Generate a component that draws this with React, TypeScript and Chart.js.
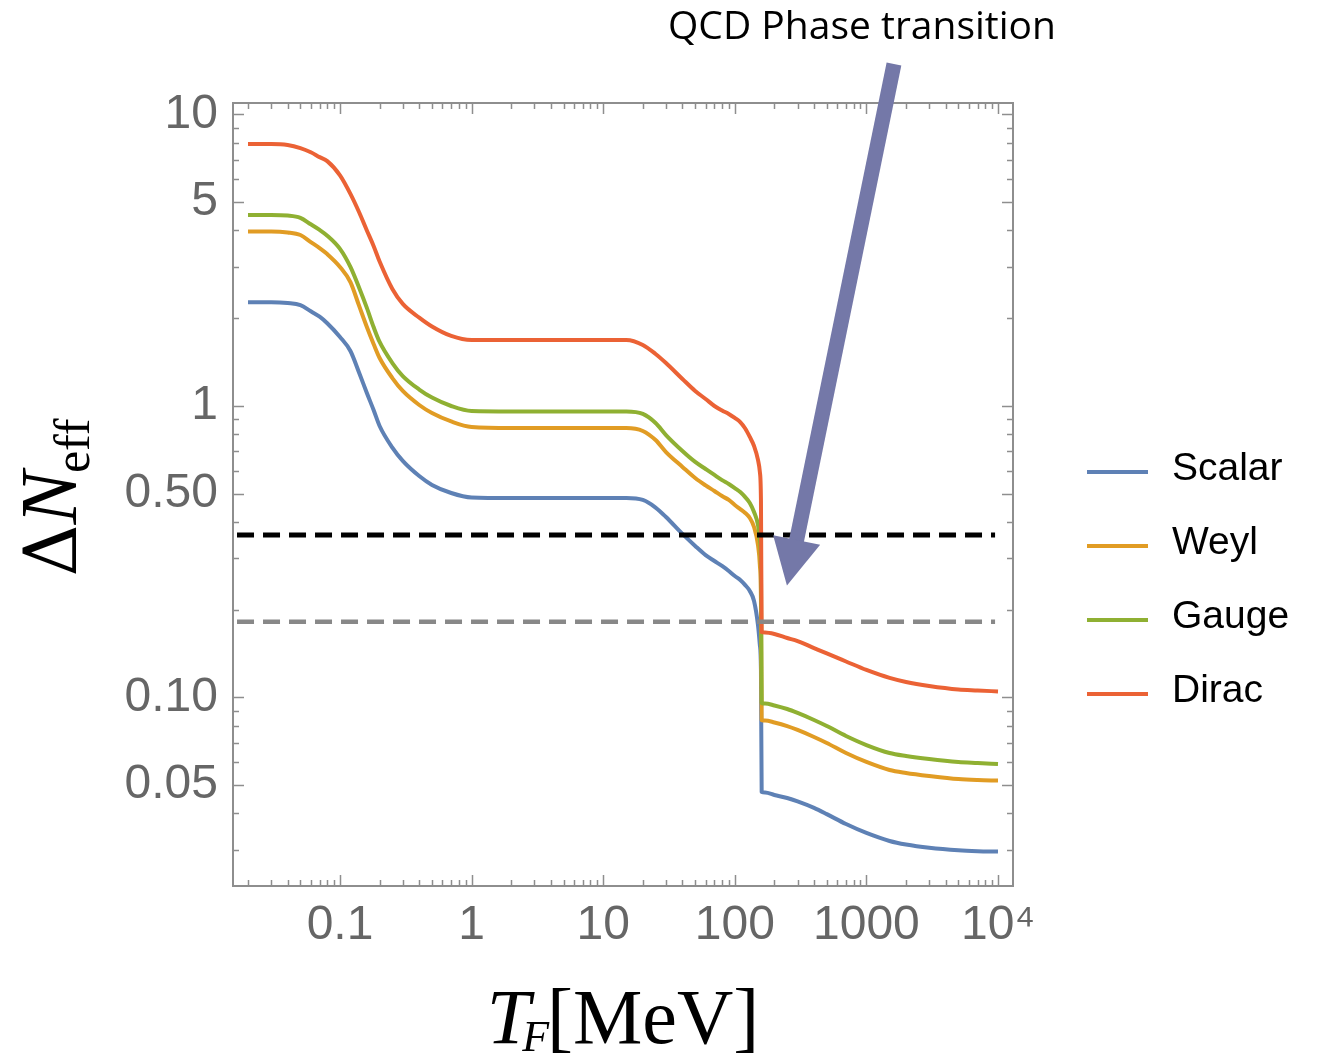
import React, { useEffect, useRef } from 'react';
import { Chart, registerables } from 'chart.js';

Chart.register(...registerables);

// ---- data ----
const T_MEV = [0.02, 0.03, 0.04, 0.05, 0.06, 0.07, 0.08, 0.1, 0.12, 0.14, 0.16, 0.18, 0.2, 0.25, 0.3, 0.4, 0.5, 0.7, 1, 2, 5, 10, 15, 20, 25, 30, 40, 50, 60, 70, 80, 90, 100, 110, 120, 130, 140, 150, 155, 158, 160, 170, 200, 250, 300, 400, 500, 700, 1000, 1500, 2000, 3000, 5000, 7000, 10000];

const SCALAR = [2.27, 2.27, 2.256, 2.22, 2.113, 2.025, 1.923, 1.725, 1.544, 1.298, 1.108, 0.969, 0.854, 0.72, 0.648, 0.575, 0.536, 0.503, 0.4855, 0.4835, 0.4835, 0.4835, 0.4835, 0.476, 0.4484, 0.416, 0.364, 0.331, 0.308, 0.294, 0.2826, 0.2716, 0.261, 0.253, 0.243, 0.232, 0.2143, 0.1773, 0.1514, 0.1243, 0.0474, 0.0472, 0.0463, 0.0452, 0.044, 0.0418, 0.0398, 0.0368, 0.0343, 0.0322, 0.0313, 0.0305, 0.0299, 0.0297, 0.0296];

const WEYL = [3.97, 3.97, 3.94, 3.86, 3.65, 3.48, 3.32, 3.0, 2.66, 2.2, 1.866, 1.632, 1.461, 1.247, 1.126, 1.008, 0.946, 0.885, 0.847, 0.84, 0.84, 0.84, 0.84, 0.821, 0.764, 0.695, 0.618, 0.566, 0.534, 0.511, 0.491, 0.476, 0.4575, 0.443, 0.4295, 0.413, 0.3845, 0.3335, 0.285, 0.216, 0.0837, 0.0834, 0.0821, 0.0798, 0.0774, 0.0732, 0.0698, 0.0645, 0.0601, 0.0564, 0.0551, 0.0538, 0.0525, 0.0521, 0.0519];

const GAUGE = [4.52, 4.52, 4.5, 4.42, 4.2, 4.02, 3.84, 3.46, 3.0, 2.54, 2.17, 1.866, 1.658, 1.404, 1.267, 1.139, 1.069, 1.0, 0.961, 0.9575, 0.9575, 0.9575, 0.9575, 0.939, 0.874, 0.795, 0.701, 0.643, 0.608, 0.58, 0.557, 0.54, 0.523, 0.507, 0.487, 0.465, 0.433, 0.391, 0.347, 0.285, 0.0957, 0.0954, 0.0939, 0.0913, 0.0885, 0.0837, 0.0798, 0.0738, 0.0687, 0.0645, 0.063, 0.0615, 0.0601, 0.0596, 0.0591];

const DIRAC = [7.92, 7.92, 7.86, 7.67, 7.42, 7.14, 6.92, 6.18, 5.34, 4.61, 4.0, 3.54, 3.13, 2.52, 2.24, 2.01, 1.874, 1.739, 1.684, 1.684, 1.684, 1.684, 1.684, 1.62, 1.508, 1.404, 1.238, 1.126, 1.057, 1.0, 0.965, 0.939, 0.91, 0.881, 0.837, 0.783, 0.729, 0.653, 0.594, 0.476, 0.1678, 0.167, 0.1651, 0.16, 0.1562, 0.1478, 0.1416, 0.1329, 0.1243, 0.1167, 0.113, 0.1095, 0.1065, 0.1057, 0.1049];

const SERIES_NAMES = ['Scalar', 'Weyl', 'Gauge', 'Dirac'];
const SERIES_COLORS = ['#5E81B5', '#E19C24', '#8FB032', '#EB6235'];

const BLACK_LEVEL = 0.361;
const GRAY_LEVEL = 0.182;
const DASH_RANGE = [0.0165, 9500];

const X_TICKS = [0.1, 1, 10, 100, 1000, 10000];
const X_TICK_LABELS = ['0.1', '1', '10', '100', '1000', '10⁴'];
const Y_TICKS = [0.05, 0.1, 0.5, 1, 5, 10];
const Y_TICK_LABELS = ['0.05', '0.10', '0.50', '1', '5', '10'];
const X_RANGE = [0.01538, 13000];
const Y_RANGE = [0.02256, 10.95];

// annotation arrow in data coordinates
const ARROW_TAIL = { x: 1620, y: 14.9 };
const ARROW_BASE = { x: 295, y: 0.347 };
const ARROW_TIP = { x: 249, y: 0.242 };
const ANNOTATION = 'QCD Phase transition';

const SANS = '"Liberation Sans", Arial, sans-serif';
const SERIF = '"Liberation Serif", "Times New Roman", serif';
const TICK_COLOR = '#666666';
const FRAME_COLOR = '#8e8e8e';
const ARROW_COLOR = '#7478a8';

const framePlugin = {
  id: 'frame',
  beforeDatasetsDraw(chart: any) {
    const { ctx, chartArea: a, scales } = chart;
    const xs = scales.x;
    const ys = scales.y;
    ctx.save();
    ctx.strokeStyle = FRAME_COLOR;
    ctx.lineWidth = 2;
    ctx.strokeRect(a.left, a.top, a.right - a.left, a.bottom - a.top);
    ctx.lineWidth = 1.5;
    const decades = [0.01, 0.1, 1, 10, 100, 1000, 10000];
    const xTick = (v: number, len: number) => {
      if (v < X_RANGE[0] || v > X_RANGE[1]) return;
      const px = Math.round(xs.getPixelForValue(v)) + 0.5;
      ctx.beginPath();
      ctx.moveTo(px, a.bottom);
      ctx.lineTo(px, a.bottom - len);
      ctx.moveTo(px, a.top);
      ctx.lineTo(px, a.top + len);
      ctx.stroke();
    };
    const yTick = (v: number, len: number) => {
      if (v < Y_RANGE[0] || v > Y_RANGE[1]) return;
      const py = Math.round(ys.getPixelForValue(v)) + 0.5;
      ctx.beginPath();
      ctx.moveTo(a.left, py);
      ctx.lineTo(a.left + len, py);
      ctx.moveTo(a.right, py);
      ctx.lineTo(a.right - len, py);
      ctx.stroke();
    };
    for (const d of decades) {
      for (let k = 1; k <= 9; k++) {
        const v = k * d;
        xTick(v, X_TICKS.some((t) => Math.abs(t - v) < 1e-9 * t) ? 11 : 6);
        yTick(v, Y_TICKS.some((t) => Math.abs(t - v) < 1e-9 * t) ? 11 : 6);
      }
    }
    ctx.restore();
  },
};

const overlayPlugin = {
  id: 'overlay',
  afterDraw(chart: any) {
    const { ctx, chartArea: a, scales } = chart;
    const xs = scales.x;
    const ys = scales.y;
    ctx.save();

    // x title: T_F[MeV]
    ctx.fillStyle = '#000';
    ctx.textBaseline = 'alphabetic';
    ctx.textAlign = 'left';
    ctx.font = `italic 78px ${SERIF}`;
    const wT = ctx.measureText('T').width;
    ctx.font = `italic 44px ${SERIF}`;
    const wF = ctx.measureText('F').width;
    ctx.font = `78px ${SERIF}`;
    const wM = ctx.measureText('[MeV]').width;
    const total = wT - 8 + wF - 2 + wM;
    const x0 = (a.left + a.right) / 2 - total / 2;
    const base = 1043;
    ctx.font = `italic 78px ${SERIF}`;
    ctx.fillText('T', x0, base);
    ctx.font = `italic 44px ${SERIF}`;
    ctx.fillText('F', x0 + wT - 8, base + 8);
    ctx.font = `78px ${SERIF}`;
    ctx.fillText('[MeV]', x0 + wT - 8 + wF - 2, base);

    // y title: ΔN_eff (rotated)
    ctx.save();
    ctx.translate(76, (a.top + a.bottom) / 2 + 2);
    ctx.rotate(-Math.PI / 2);
    ctx.font = `72px "DejaVu Serif", ${SERIF}`;
    const wD = ctx.measureText('Δ').width;
    ctx.font = `italic 80px ${SERIF}`;
    const wN = ctx.measureText('N').width;
    ctx.font = `50px ${SERIF}`;
    const wE = ctx.measureText('eff').width;
    const tot2 = wD + wN + wE;
    let lx = -tot2 / 2;
    ctx.font = `72px "DejaVu Serif", ${SERIF}`;
    ctx.fillText('Δ', lx, 0);
    lx += wD;
    ctx.font = `italic 80px ${SERIF}`;
    ctx.fillText('N', lx, 0);
    lx += wN;
    ctx.font = `50px ${SERIF}`;
    ctx.fillText('eff', lx - 2, 13);
    ctx.restore();

    // legend
    const rowY = [472, 546, 620, 694];
    ctx.font = `39px ${SANS}`;
    ctx.fillStyle = '#000';
    SERIES_NAMES.forEach((name, i) => {
      const y = rowY[i];
      ctx.strokeStyle = SERIES_COLORS[i];
      ctx.lineWidth = 4;
      ctx.lineCap = 'butt';
      ctx.beginPath();
      ctx.moveTo(a.right + 74, y);
      ctx.lineTo(a.right + 135, y);
      ctx.stroke();
      ctx.fillText(name, a.right + 159, y + 8);
    });

    // annotation text
    ctx.font = `39px "Open Sans", ${SANS}`;
    ctx.textAlign = 'center';
    ctx.fillStyle = '#000';
    ctx.fillText(ANNOTATION, 862, 39);

    // arrow
    const tx = xs.getPixelForValue(ARROW_TAIL.x);
    const ty = ys.getPixelForValue(ARROW_TAIL.y);
    const bx = xs.getPixelForValue(ARROW_BASE.x);
    const by = ys.getPixelForValue(ARROW_BASE.y);
    const px = xs.getPixelForValue(ARROW_TIP.x);
    const py = ys.getPixelForValue(ARROW_TIP.y);
    const dx = bx - tx;
    const dy = by - ty;
    const len = Math.hypot(dx, dy);
    const nx = -dy / len;
    const ny = dx / len;
    ctx.fillStyle = ARROW_COLOR;
    const hw = 7.5;
    ctx.beginPath();
    ctx.moveTo(tx + nx * hw, ty + ny * hw);
    ctx.lineTo(bx + nx * hw + (dx / len) * 2, by + ny * hw + (dy / len) * 2);
    ctx.lineTo(bx - nx * hw + (dx / len) * 2, by - ny * hw + (dy / len) * 2);
    ctx.lineTo(tx - nx * hw, ty - ny * hw);
    ctx.closePath();
    ctx.fill();
    const hh = 24;
    ctx.beginPath();
    ctx.moveTo(bx + nx * hh, by + ny * hh);
    ctx.lineTo(px, py);
    ctx.lineTo(bx - nx * hh, by - ny * hh);
    ctx.closePath();
    ctx.fill();

    ctx.restore();
  },
};

export default function App() {
  const ref = useRef<HTMLCanvasElement | null>(null);

  useEffect(() => {
    const canvas = ref.current;
    if (!canvas) return;
    const pts = (ys: number[]) => T_MEV.map((t, i) => ({ x: t, y: ys[i] }));
    const hline = (level: number) => [
      { x: DASH_RANGE[0], y: level },
      { x: DASH_RANGE[1], y: level },
    ];
    const curveData = [SCALAR, WEYL, GAUGE, DIRAC];
    const curveSets = [3, 2, 1, 0].map((i) => ({
      label: SERIES_NAMES[i],
      data: pts(curveData[i]),
      borderColor: SERIES_COLORS[i],
      borderWidth: 4,
      pointRadius: 0,
      fill: false,
      cubicInterpolationMode: 'monotone' as const,
    }));
    const chart = new Chart(canvas, {
      type: 'line',
      data: {
        datasets: [
          {
            label: 'upper bound',
            data: hline(BLACK_LEVEL),
            borderColor: '#000000',
            borderWidth: 5,
            borderDash: [17, 9],
            pointRadius: 0,
            fill: false,
          },
          {
            label: 'future bound',
            data: hline(GRAY_LEVEL),
            borderColor: '#888888',
            borderWidth: 4.5,
            borderDash: [17, 9],
            pointRadius: 0,
            fill: false,
          },
          ...curveSets,
        ],
      },
      options: {
        responsive: false,
        animation: false,
        devicePixelRatio: 1,
        layout: { padding: { left: 0, top: 103, right: 304, bottom: 0 } },
        plugins: {
          legend: { display: false },
          tooltip: { enabled: false },
          title: { display: false },
        },
        elements: { line: { borderJoinStyle: 'round', borderCapStyle: 'butt' } },
        scales: {
          x: {
            type: 'logarithmic',
            min: X_RANGE[0],
            max: X_RANGE[1],
            grid: { display: false, drawTicks: false },
            border: { display: false },
            afterBuildTicks: (s: any) => {
              s.ticks = X_TICKS.map((value) => ({ value }));
            },
            afterFit: (s: any) => {
              s.height = 175;
            },
            ticks: {
              autoSkip: false,
              maxRotation: 0,
              minRotation: 0,
              padding: 11,
              color: TICK_COLOR,
              font: { family: SANS, size: 48 },
              callback: (_v: any, i: number) => X_TICK_LABELS[i],
            },
          },
          y: {
            type: 'logarithmic',
            min: Y_RANGE[0],
            max: Y_RANGE[1],
            grid: { display: false, drawTicks: false },
            border: { display: false },
            afterBuildTicks: (s: any) => {
              s.ticks = Y_TICKS.map((value) => ({ value }));
            },
            afterFit: (s: any) => {
              s.width = 233;
            },
            ticks: {
              autoSkip: false,
              padding: 15,
              color: TICK_COLOR,
              font: { family: SANS, size: 48 },
              callback: (_v: any, i: number) => Y_TICK_LABELS[i],
            },
          },
        },
      },
      plugins: [framePlugin, overlayPlugin],
    } as any);
    return () => chart.destroy();
  }, []);

  return (
    <div style={{ position: 'absolute', left: 0, top: 0, width: 1317, height: 1061, background: '#ffffff' }}>
      <canvas ref={ref} width={1317} height={1061} style={{ display: 'block', width: 1317, height: 1061 }} />
    </div>
  );
}
